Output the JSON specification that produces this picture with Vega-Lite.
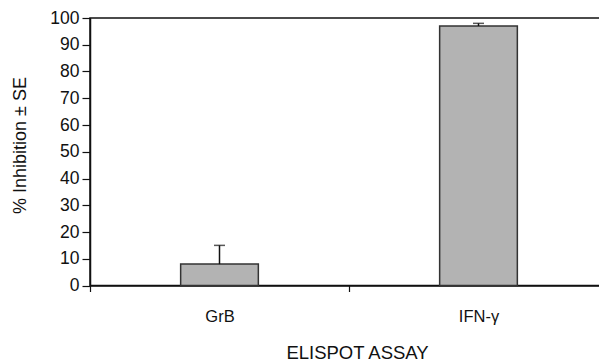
{
  "$schema": "https://vega.github.io/schema/vega-lite/v6.json",
  "width": 518,
  "height": 267.5,
  "autosize": {"type": "none"},
  "padding": {"left": 90, "top": 18, "right": 0, "bottom": 77},
  "background": "white",
  "config": {
    "font": "Liberation Sans",
    "view": {"stroke": "#111", "strokeWidth": 1.5},
    "axis": {"grid": false, "domainColor": "#111", "tickColor": "#111", "labelColor": "#111", "titleColor": "#111", "domainWidth": 1.5, "tickWidth": 1.2, "labelFont": "Liberation Sans", "titleFont": "Liberation Sans", "titleFontWeight": "normal", "labelOverlap": false, "labelBound": false}
  },
  "data": {"values": [
    {"assay": "GrB", "inhibition": 8, "upper": 15},
    {"assay": "IFN-γ", "inhibition": 97, "upper": 98}
  ]},
  "encoding": {
    "x": {
      "field": "assay", "type": "nominal", "sort": ["GrB", "IFN-γ"],
      "scale": {"paddingInner": 0, "paddingOuter": 0},
      "axis": {"title": "ELISPOT ASSAY", "labelAngle": 0, "labelFontSize": 16.5, "labelPadding": 17, "tickSize": 6, "tickBand": "extent", "titleFontSize": 18.5, "titleX": 267, "titleY": 73, "titleBaseline": "alphabetic"}
    },
    "y": {
      "field": "inhibition", "type": "quantitative",
      "scale": {"domain": [0, 100], "nice": false},
      "axis": {"title": "% Inhibition ± SE", "values": [0,10,20,30,40,50,60,70,80,90,100], "tickCount": 11, "labelFontSize": 17.5, "tickSize": 8, "labelPadding": 3, "titleFontSize": 18, "titlePadding": 20, "titleY": 127}
    }
  },
  "layer": [
    {
      "mark": {"type": "bar", "width": {"band": 0.3}, "fill": "#b3b3b3", "stroke": "#333", "strokeWidth": 1.5}
    },
    {
      "mark": {"type": "rule", "color": "#111", "strokeWidth": 1.5},
      "encoding": {
        "y2": {"field": "upper"}
      }
    },
    {
      "mark": {"type": "tick", "color": "#111", "size": 11, "thickness": 1.5, "orient": "horizontal"},
      "encoding": {
        "y": {"field": "upper", "type": "quantitative"}
      }
    }
  ]
}
